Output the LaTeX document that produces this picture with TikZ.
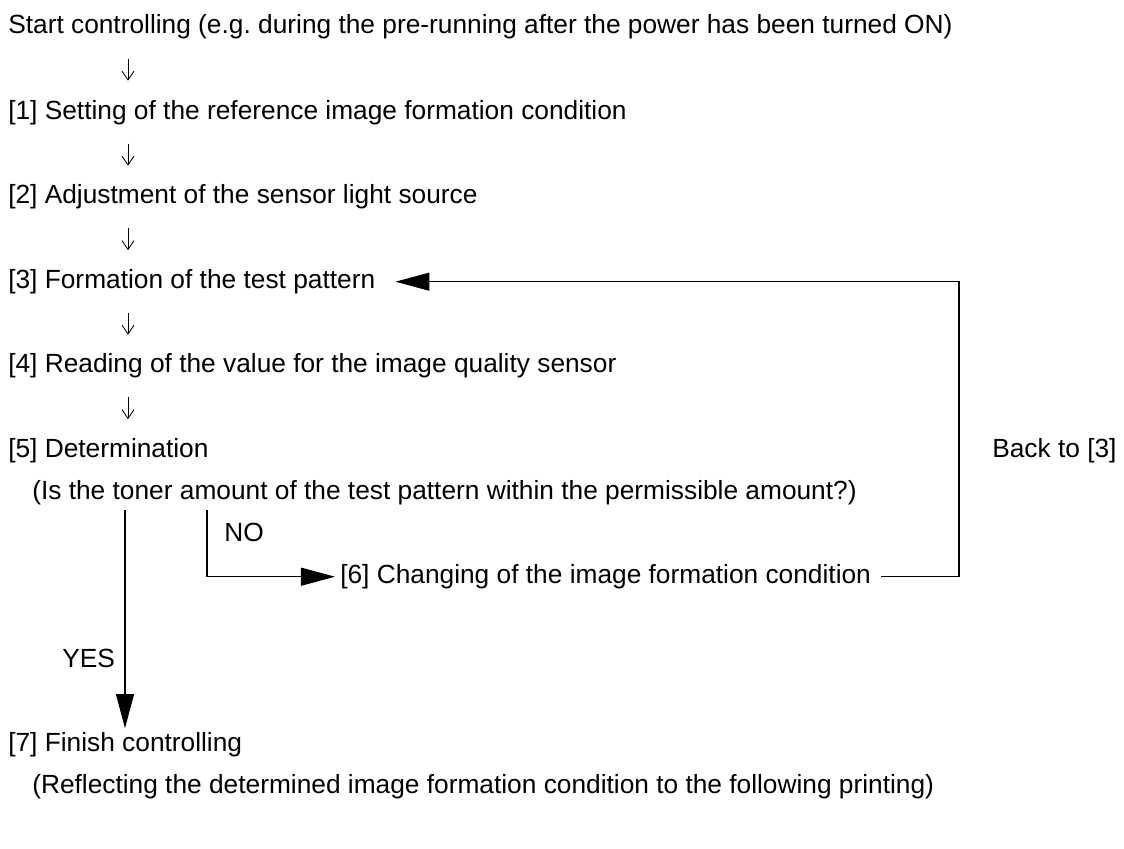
\documentclass[tikz,border=0pt]{standalone}
\usepackage{fontspec}
\setmainfont{Liberation Sans}
\usetikzlibrary{arrows.meta,calc}

\begin{document}
\begin{tikzpicture}[x=0.025cm,y=-0.025cm,line cap=butt,line join=miter,
  font=\fontsize{18.7}{22}\selectfont,
  lab/.style={anchor=base west,inner sep=0pt},
  flow/.style={-{Triangle[length=0.85cm,width=0.45cm]},line width=0.8pt},
  down/.style={-{Straight Barb[length=0.22cm,width=0.3cm]},line width=0.6pt}]

  \useasboundingbox (0,0) rectangle (1124,848);

  % ---- steps ----
  \node[lab] (s0) at (8,33.5) {Start controlling (e.g.\ during the pre-running after the power has been turned ON)};
  \node[lab] (s1) at (8,119.5) {[1] Setting of the reference image formation condition};
  \node[lab] (s2) at (8,203.5) {[2] Adjustment of the sensor light source};
  \node[lab] (s3) at (8,288.5) {[3] Formation of the test pattern};
  \node[lab] (s4) at (8,372.5) {[4] Reading of the value for the image quality sensor};
  \node[lab] (s5) at (8,457.5) {[5] Determination};
  \node[lab] (s5b) at (32,499.5) {(Is the toner amount of the test pattern within the permissible amount?)};
  \node[lab] (s6) at (340,583.5) {[6] Changing of the image formation condition};
  \node[lab] (s7) at (8,751.5) {[7] Finish controlling};
  \node[lab] (s7b) at (32,793.5) {(Reflecting the determined image formation condition to the following printing)};

  % ---- branch labels ----
  \node[lab] (no) at (224,541.5) {NO};
  \node[lab] (yes) at (62,667.5) {YES};
  \node[lab] (back) at (992,457.5) {Back to [3]};

  \coordinate (dcol) at (128,0);
  \coordinate (ycol) at (125,0);
  \coordinate (ncol) at (207,0);
  \coordinate (rcol) at (959,450);

  % small arrows between the first steps
  \foreach \a/\b in {s0/s1,s1/s2,s2/s3,s3/s4,s4/s5}
    \draw[down] ($(dcol |- \a)!0.5!(dcol |- \b)+(0,-11)$) -- ++(0,22);

  % YES
  \draw[flow] ($(ycol |- s5b.south)+(0,5)$) -- ($(ycol |- s7.north)+(0,-4)$);
  % NO
  \draw[flow] ($(ncol |- s5b.south)+(0,5)$) |- ($(s6.west)+(-5,0)$);
  % back to [3]
  \draw[flow] ($(s6.east)+(10,0)$) -| (rcol) |- ($(s3.east)+(20,0)$);
\end{tikzpicture}
\end{document}
